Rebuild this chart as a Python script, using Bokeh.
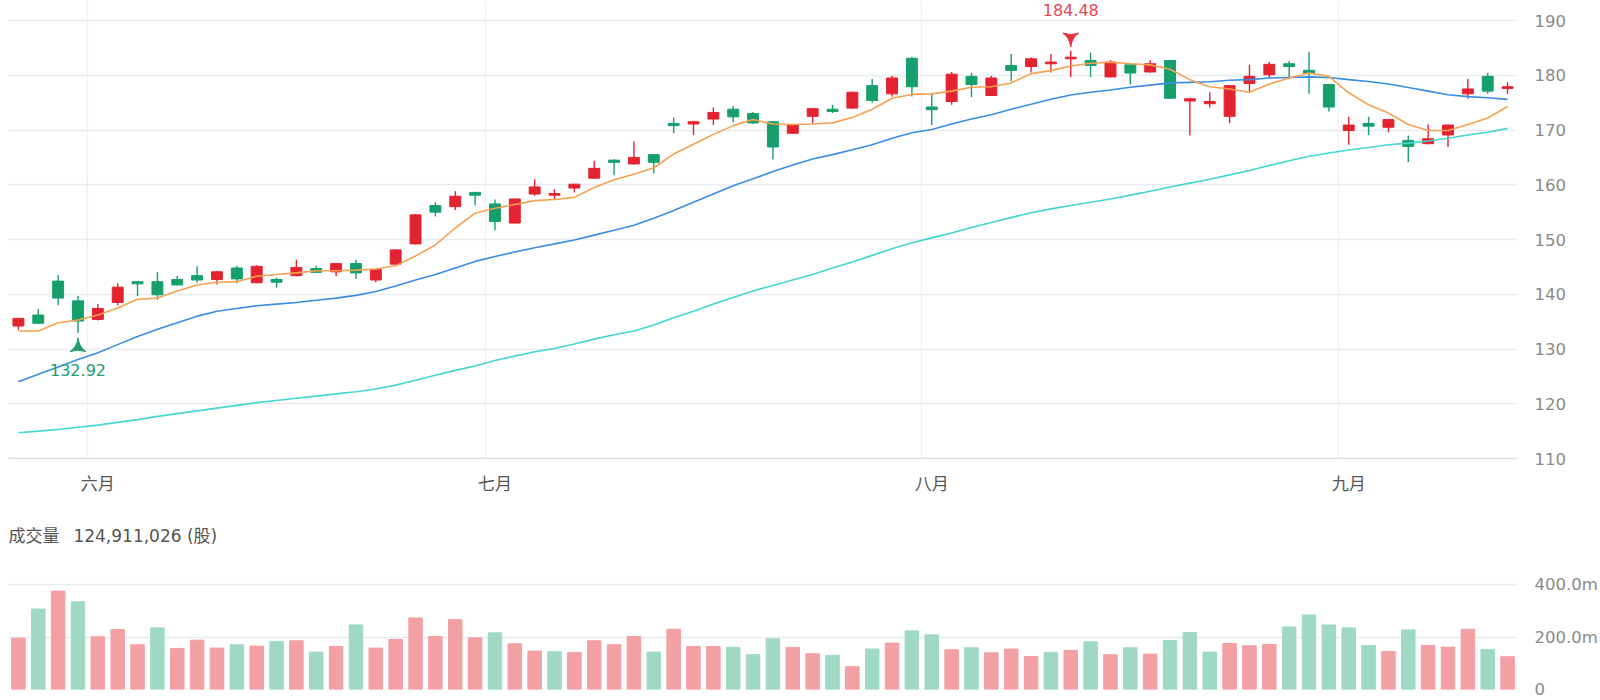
import numpy as np
from bokeh.plotting import figure
from bokeh.layouts import column
from bokeh.models import ColumnDataSource, FixedTicker, Label, Range1d
from bokeh.embed import file_html
from bokeh.resources import INLINE

# ---- daily data -------------------------------------------------------
months = ["六月", "七月", "八月", "九月"]
month_start = [4, 24, 46, 67]          # index of the first session in each month

open_ = [134.2, 136.2, 142.4, 138.8, 135.4, 138.5, 142.3, 142.3, 142.7, 143.4,
         142.7, 144.8, 142.1, 142.7, 143.4, 144.7, 144.1, 145.6, 142.6, 145.5,
         149.2, 156.2, 156.0, 158.6, 156.5, 153.0, 158.3, 158.1, 159.4, 161.2,
         164.5, 163.8, 165.5, 171.2, 171.1, 172.0, 173.8, 173.0, 171.5, 169.4,
         172.5, 173.8, 174.0, 178.1, 176.6, 183.1, 174.2, 175.2, 179.8, 176.3,
         181.8, 181.6, 182.1, 183.0, 182.7, 179.7, 181.9, 180.6, 182.7, 175.3,
         174.8, 172.5, 178.5, 180.1, 182.1, 180.9, 178.3, 169.9, 171.2, 170.5,
         168.1, 167.5, 169.1, 176.6, 179.8, 177.6]
high = [135.6, 137.3, 143.5, 139.7, 138.2, 142.0, 142.4, 144.0, 143.4, 145.1,
        144.3, 145.2, 145.3, 143.0, 146.3, 145.2, 145.7, 146.3, 144.6, 148.2,
        154.6, 156.8, 158.8, 158.7, 157.3, 157.5, 161.0, 159.2, 160.2, 164.4,
        164.6, 167.9, 165.6, 172.3, 171.7, 174.1, 174.4, 173.3, 171.6, 171.0,
        173.9, 174.6, 177.0, 179.3, 179.9, 183.4, 176.6, 180.6, 180.4, 179.9,
        183.9, 183.3, 183.9, 184.48, 184.1, 182.8, 182.0, 182.8, 182.8, 175.9,
        176.9, 178.2, 181.9, 182.4, 182.6, 184.3, 178.4, 172.4, 172.4, 172.0,
        169.0, 171.0, 171.0, 179.3, 180.4, 178.7]
low = [133.5, 134.7, 138.0, 132.92, 135.2, 138.0, 139.7, 139.0, 141.6, 142.1,
       141.8, 142.0, 142.0, 141.2, 143.3, 143.9, 143.3, 142.8, 142.2, 145.4,
       149.1, 154.2, 155.4, 156.2, 151.7, 152.9, 158.0, 157.4, 158.6, 161.1,
       161.8, 163.7, 162.1, 169.4, 169.1, 170.9, 171.4, 171.1, 164.6, 169.3,
       171.3, 173.1, 173.9, 175.0, 176.1, 176.1, 170.9, 174.6, 176.0, 176.2,
       178.9, 180.5, 180.5, 179.7, 179.7, 179.6, 178.3, 180.5, 175.7, 169.0,
       174.1, 171.3, 176.8, 179.5, 179.3, 176.6, 173.4, 167.3, 169.1, 169.6,
       164.1, 167.4, 166.9, 175.7, 176.6, 176.6]
close = [135.6, 134.7, 139.3, 135.1, 137.4, 141.3, 141.9, 139.9, 141.7, 142.6,
         144.1, 142.8, 145.1, 142.2, 144.9, 144.0, 145.6, 143.9, 144.5, 148.1,
         154.5, 155.0, 157.9, 158.1, 153.3, 157.4, 159.6, 158.4, 160.1, 163.0,
         164.1, 165.0, 164.1, 170.8, 171.5, 173.2, 172.4, 171.3, 166.9, 170.9,
         173.9, 173.4, 176.9, 175.4, 179.5, 177.9, 173.7, 180.2, 178.3, 179.5,
         180.9, 183.0, 182.4, 183.3, 181.8, 182.4, 180.4, 182.1, 175.8, 175.7,
         175.2, 178.1, 179.8, 182.0, 181.6, 180.3, 174.2, 170.9, 170.7, 171.9,
         167.0, 168.4, 170.9, 177.5, 177.1, 177.9]
volume = [195.6e6, 306.7e6, 374.8e6, 334.4e6, 200.7e6, 228.4e6, 170.4e6, 234.7e6,
          156.5e6, 188.0e6, 157.8e6, 170.4e6, 165.3e6, 183.0e6, 185.5e6, 142.6e6,
          164.0e6, 246.0e6, 157.8e6, 190.6e6, 272.6e6, 202.0e6, 266.3e6, 196.9e6,
          215.8e6, 174.2e6, 146.4e6, 143.9e6, 141.3e6, 185.5e6, 170.4e6, 202.0e6,
          142.6e6, 229.7e6, 164.0e6, 164.0e6, 160.3e6, 132.5e6, 193.1e6, 160.3e6,
          136.3e6, 130.0e6, 87.0e6, 154.0e6, 176.7e6, 223.4e6, 208.2e6, 151.4e6,
          159.0e6, 140.0e6, 154.0e6, 126.0e6, 141.3e6, 149.0e6, 181.7e6, 132.5e6,
          159.0e6, 135.0e6, 186.8e6, 217.0e6, 142.6e6, 175.4e6, 166.6e6, 171.6e6,
          238.5e6, 284.0e6, 246.0e6, 234.7e6, 167.8e6, 145.1e6, 227.0e6, 167.8e6,
          161.5e6, 229.7e6, 152.7e6, 124911026]
ma5 = [133.3, 133.3, 134.8, 135.3, 136.2, 137.5, 139.1, 139.3, 140.6, 141.7,
       142.2, 142.3, 143.3, 143.6, 143.9, 144.3, 144.3, 144.4, 144.6, 145.2,
       147.0, 149.0, 152.1, 154.8, 155.7, 156.4, 157.1, 157.3, 157.7, 159.5,
       160.9, 161.9, 163.1, 165.6, 167.4, 169.2, 170.8, 171.9, 171.1, 171.0,
       171.1, 171.3, 172.3, 173.8, 175.8, 176.5, 176.6, 177.1, 177.8, 177.9,
       178.6, 180.3, 180.85, 181.7, 182.2, 182.4, 182.1, 181.9, 181.1, 179.2,
       177.9, 177.5, 176.9, 178.4, 179.5, 180.4, 179.8, 176.8, 174.6, 173.1,
       171.0, 169.9, 169.9, 171.0, 172.2, 174.3]
ma20 = [124.0, 125.4, 126.7, 128.1, 129.3, 130.8, 132.3, 133.6, 134.8, 136.0,
        136.9, 137.4, 137.9, 138.2, 138.5, 138.9, 139.3, 139.8, 140.5, 141.5,
        142.6, 143.6, 144.8, 146.0, 146.9, 147.7, 148.5, 149.2, 149.9, 150.8,
        151.7, 152.6, 153.9, 155.3, 156.8, 158.3, 159.8, 161.1, 162.4, 163.6,
        164.7, 165.5, 166.4, 167.3, 168.5, 169.5, 170.1, 171.1, 172.0, 172.8,
        173.8, 174.7, 175.6, 176.4, 176.9, 177.3, 177.8, 178.2, 178.6, 178.7,
        178.8, 179.1, 179.2, 179.5, 179.6, 179.7, 179.6, 179.2, 178.85, 178.4,
        177.75, 177.1, 176.45, 176.1, 175.9, 175.6]
ma60 = [114.7, 115.0, 115.3, 115.7, 116.1, 116.6, 117.1, 117.7, 118.2, 118.7,
        119.2, 119.7, 120.2, 120.6, 121.0, 121.4, 121.8, 122.2, 122.7, 123.4,
        124.3, 125.2, 126.1, 126.9, 127.9, 128.7, 129.5, 130.1, 130.9, 131.8,
        132.6, 133.3, 134.4, 135.7, 136.9, 138.2, 139.4, 140.6, 141.6, 142.6,
        143.6, 144.8, 145.9, 147.1, 148.3, 149.4, 150.3, 151.2, 152.2, 153.1,
        154.0, 154.9, 155.6, 156.2, 156.8, 157.4, 158.1, 158.8, 159.6, 160.3,
        161.0, 161.8, 162.6, 163.5, 164.4, 165.2, 165.8, 166.35, 166.8, 167.3,
        167.6, 168.0, 168.5, 169.1, 169.6, 170.3]
price_ticks = [110, 120, 130, 140, 150, 160, 170, 180, 190]
volume_ticks = [0, 200_000_000, 400_000_000]
volume_labels = ["0", "200.0m", "400.0m"]

# ---- styling ----------------------------------------------------------
UP, DOWN = "#e3232f", "#15a06b"
UP_VOL, DOWN_VOL = "#f2a0a4", "#9fd9c4"
GRID = "#e8ebf2"
CJK_FONT = "Noto Sans CJK SC"
NUM_FONT = "DejaVu Sans, Noto Sans CJK SC"

n = len(close)
idx = np.arange(n)
o, h, l, c = map(np.asarray, (open_, high, low, close))
candle_col = np.where(c >= o, UP, DOWN)
prev_close = np.concatenate([[o[0]], c[:-1]])
vol_col = np.where(c >= prev_close, UP_VOL, DOWN_VOL)

src = ColumnDataSource(dict(
    x=idx, high=h, low=l, top=np.maximum(o, c), bottom=np.minimum(o, c),
    color=candle_col, vol=volume, vcolor=vol_col,
    ma5=ma5, ma20=ma20, ma60=ma60,
))

x_range = Range1d(-0.5, n - 0.5)


def style_value_axis(ax, ticks):
    ax.ticker = FixedTicker(ticks=ticks)
    ax.axis_line_color = None
    ax.major_tick_line_color = None
    ax.minor_tick_line_color = None
    ax.major_label_standoff = 11
    ax.major_label_text_font = NUM_FONT
    ax.major_label_text_font_size = "16.5px"
    ax.major_label_text_color = "#8a8a8a"


# ---- price panel ------------------------------------------------------
# frame runs to the canvas top so the peak label has room; the scale keeps
# 110..190 across the lower 438 px
frame_h = 458
px_per_unit = 438 / (price_ticks[-1] - price_ticks[0])
y_top = price_ticks[0] + frame_h / px_per_unit
p1 = figure(width=1600, height=509, x_range=x_range,
            y_range=Range1d(price_ticks[0], y_top),
            y_axis_location="right", toolbar_location=None,
            output_backend="svg", min_border_left=8, min_border_right=80,
            min_border_top=0, min_border_bottom=509 - frame_h)
p1.outline_line_color = None
p1.background_fill_color = "white"

p1.ygrid.ticker = FixedTicker(ticks=price_ticks)
p1.ygrid.grid_line_color = GRID
p1.ygrid.grid_line_width = 1.3
p1.xgrid.ticker = FixedTicker(ticks=[-0.5] + [m - 0.5 for m in month_start])
p1.xgrid.bounds = (price_ticks[0], price_ticks[-1])
p1.xgrid.grid_line_color = "#edf0f5"
p1.xgrid.grid_line_width = 1.3

style_value_axis(p1.yaxis[0], price_ticks)

xa = p1.xaxis[0]
xa.ticker = FixedTicker(ticks=month_start)
xa.major_label_overrides = {m: name for m, name in zip(month_start, months)}
xa.axis_line_color = "#d9dde6"
xa.axis_line_width = 1.5
xa.major_tick_line_color = None
xa.minor_tick_line_color = None
xa.major_label_standoff = 5
xa.major_label_text_font = CJK_FONT
xa.major_label_text_font_size = "17px"
xa.major_label_text_color = "#555555"

# candles
p1.segment(x0="x", y0="high", x1="x", y1="low", color="color", line_width=1.4, source=src)
p1.vbar(x="x", width=0.55, top="top", bottom="bottom", fill_color="color",
        line_color="color", line_width=1, source=src)

# moving averages
p1.line("x", "ma60", color="#44d6cf", line_width=1.6, source=src)
p1.line("x", "ma20", color="#3b8de3", line_width=1.6, source=src)
p1.line("x", "ma5", color="#f6a252", line_width=1.6, source=src)

# highest / lowest markers
imax, imin = int(np.argmax(h)), int(np.argmin(l))
p1.scatter([imax], [h[imax] + 13 / px_per_unit], marker="triangle_pin", angle=np.pi,
           size=16, color="#e5323b")
p1.scatter([imin], [l[imin] - 14 / px_per_unit], marker="triangle_pin",
           size=16, color="#1f9d6b")
p1.add_layout(Label(x=imax, y=h[imax], y_offset=41, text=f"{h[imax]:.2f}",
                    text_align="center", text_baseline="middle", text_color="#e8464e",
                    text_font=NUM_FONT, text_font_size="16px"))
p1.add_layout(Label(x=imin, y=l[imin], y_offset=-37, text=f"{l[imin]:.2f}",
                    text_align="center", text_baseline="middle", text_color="#22a06b",
                    text_font=NUM_FONT, text_font_size="16px"))

# ---- volume panel -----------------------------------------------------
vol_px = 0.2625e-6      # pixels per share
vol_top = 180 / vol_px
p2 = figure(width=1600, height=191, x_range=x_range, y_range=Range1d(0, vol_top),
            y_axis_location="right", x_axis_location=None, toolbar_location=None,
            output_backend="svg", min_border_left=8, min_border_right=80,
            min_border_top=0, min_border_bottom=11)
p2.outline_line_color = None
p2.xgrid.grid_line_color = None
p2.ygrid.ticker = FixedTicker(ticks=volume_ticks)
p2.ygrid.grid_line_color = GRID
p2.ygrid.grid_line_width = 1.3

va = p2.yaxis[0]
style_value_axis(va, volume_ticks)
va.major_label_overrides = dict(zip(volume_ticks, volume_labels))

p2.vbar(x="x", width=0.68, top="vol", bottom=0, fill_color="vcolor",
        line_color="vcolor", source=src)

p2.add_layout(Label(x=-0.5, y=(689 - 535) / vol_px,
                    text=f"成交量\u2002\u00a0{int(volume[-1]):,} (股)",
                    text_align="left", text_baseline="middle", text_color="#555555",
                    text_font=NUM_FONT, text_font_size="17px"))

layout = column(p1, p2, spacing=0)
open("out.html", "w").write(file_html(layout, INLINE))
